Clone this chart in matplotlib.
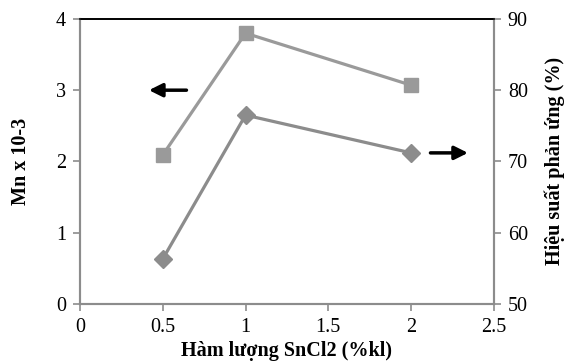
import matplotlib.pyplot as plt

plt.rcParams['font.family'] = ['Liberation Serif', 'DejaVu Serif']

# data
sncl2 = [0.5, 1, 2]
mn = [2.09, 3.8, 3.07]          # Mn x 10-3 (left axis)
hieu_suat = [56.3, 76.5, 71.2]  # Hieu suat phan ung (%) (right axis)

gray = '#8c8c8c'

fig, ax = plt.subplots(figsize=(5.71, 3.64), dpi=100)
fig.subplots_adjust(left=0.14, right=0.865, top=0.948, bottom=0.165)
ax2 = ax.twinx()

ax.plot(sncl2, mn, color='#9a9a9a', lw=2.3, marker='s', ms=10, zorder=3)
ax2.plot(sncl2, hieu_suat, color=gray, lw=2.3, marker='D', ms=9, zorder=3)

ax.set_xlim(0, 2.5)
ax.set_ylim(0, 4)
ax2.set_ylim(50, 90)
ax.set_xticks([0, 0.5, 1, 1.5, 2, 2.5])
ax.set_xticklabels(['0', '0.5', '1', '1.5', '2', '2.5'])
ax.set_yticks([0, 1, 2, 3, 4])
ax2.set_yticks([50, 60, 70, 80, 90])

for a in (ax, ax2):
    for s in ['left', 'right', 'bottom']:
        a.spines[s].set_color(gray)
        a.spines[s].set_linewidth(1.5)
    a.spines['top'].set_color('black')
    a.spines['top'].set_linewidth(1.2)
    a.tick_params(direction='out', color=gray, width=1.2, length=5, labelsize=14.5, pad=5)

ax.set_xlabel('Hàm lượng SnCl2 (%kl)', fontsize=14.5, fontweight='bold', labelpad=3)
ax.set_ylabel('Mn x 10-3', fontsize=14.5, fontweight='bold', labelpad=18)
ax2.set_ylabel('Hiệu suất phản ứng (%)', fontsize=14.5, fontweight='bold', labelpad=12)

ax.annotate('', xy=(0.4, 3.0), xytext=(0.66, 3.0),
            arrowprops=dict(arrowstyle='-|>', color='black', lw=2.5, mutation_scale=20))
ax2.annotate('', xy=(2.36, 71.2), xytext=(2.1, 71.2),
             arrowprops=dict(arrowstyle='-|>', color='black', lw=2.5, mutation_scale=20))

plt.savefig('out.png', dpi=100)
